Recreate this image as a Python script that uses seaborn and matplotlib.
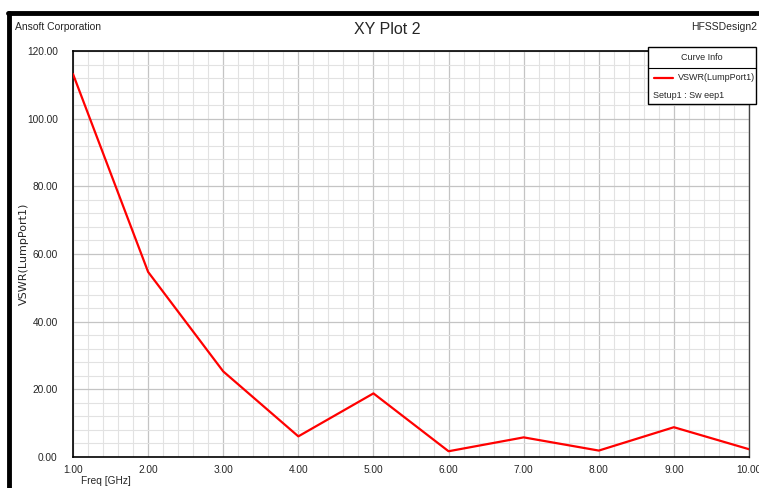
import matplotlib
matplotlib.use("Agg")
import matplotlib.pyplot as plt
import seaborn as sns
import pandas as pd
import numpy as np
from matplotlib.patches import Rectangle
from matplotlib.lines import Line2D
from matplotlib.ticker import MultipleLocator, FormatStrFormatter

freq_ghz = [1, 2, 3, 4, 5, 6, 7, 8, 9, 10]
vswr = [113.2, 54.7, 25.3, 6.1, 18.8, 1.7, 5.8, 1.9, 8.8, 2.3]

sns.set_style("white")
plt.rcParams['font.family'] = ['Liberation Sans Narrow', 'Liberation Sans', 'DejaVu Sans']

W, H = 759, 488
fig = plt.figure(figsize=(W / 100, H / 100), dpi=100)
fig.patch.set_facecolor("white")

def fx(px):
    return px / W

def fy(py):
    return 1 - py / H

AXW = fx(749) - fx(73)
ax = fig.add_axes([fx(73), fy(457), AXW, fy(51) - fy(457)])
df = pd.DataFrame({"Freq": freq_ghz, "VSWR": vswr})
sns.lineplot(data=df, x="Freq", y="VSWR", ax=ax, color="#ff0000", linewidth=1.6, zorder=5)

ax.set_xlim(1, 10)
ax.set_ylim(0, 120)
ax.xaxis.set_major_locator(MultipleLocator(1))
ax.xaxis.set_minor_locator(MultipleLocator(0.2))
ax.yaxis.set_major_locator(MultipleLocator(20))
ax.yaxis.set_minor_locator(MultipleLocator(4))
ax.xaxis.set_major_formatter(FormatStrFormatter("%.2f"))
ax.yaxis.set_major_formatter(FormatStrFormatter("%.2f"))
ax.grid(which="major", color="#c4c4c4", linewidth=0.9)
ax.grid(which="minor", color="#e2e2e2", linewidth=0.8)
ax.set_axisbelow(True)
ax.tick_params(which="major", direction="out", color="black", width=1,
               labelsize=7.3, pad=2)
ax.tick_params(which="minor", direction="out", color="black", width=1)
ax.tick_params(axis="y", which="major", length=9)
ax.tick_params(axis="y", which="minor", length=5)
ax.tick_params(axis="x", which="major", length=4)
ax.tick_params(axis="x", which="minor", length=4)
for s in ["left", "bottom", "top"]:
    ax.spines[s].set_color("black")
    ax.spines[s].set_linewidth(1.2)
ax.spines["right"].set_color("#444444")
ax.spines["right"].set_linewidth(1.0)

ax.set_xlabel("Freq [GHz]", fontsize=7.3)
ax.xaxis.set_label_coords((fx(106) - fx(73)) / AXW, -0.048)
ax.set_ylabel("VSWR(LumpPort1)", fontsize=8, family=['DejaVu Sans'])
ax.yaxis.set_label_coords(-((fx(73) - fx(29)) / AXW), 0.5)

# frame border
fig.add_artist(Line2D([fx(8), 1], [fy(13), fy(13)], color="black", linewidth=3.5,
                      transform=fig.transFigure))
fig.add_artist(Line2D([fx(9), fx(9)], [0, fy(13)], color="black", linewidth=3.5,
                      transform=fig.transFigure))

fig.text(fx(15), fy(27), "Ansoft Corporation", fontsize=7.5, ha="left", va="center")
fig.text(fx(387), fy(29), "XY Plot 2", fontsize=11.5, ha="center", va="center")
fig.text(fx(757), fy(27), "HFSSDesign2", fontsize=7.5, ha="right", va="center")

# curve info box
x0, x1, y0, y1 = 648, 756, 47, 104
fig.add_artist(Rectangle((fx(x0), fy(y1)), fx(x1) - fx(x0), fy(y0) - fy(y1),
                         transform=fig.transFigure, facecolor="white",
                         edgecolor="black", linewidth=1.0, zorder=10))
fig.add_artist(Line2D([fx(x0), fx(x1)], [fy(68), fy(68)], color="black", linewidth=0.8,
                      transform=fig.transFigure, zorder=11))
fig.text(fx((x0 + x1) / 2), fy(58), "Curve Info", fontsize=6.5, ha="center", va="center", zorder=12)
fig.add_artist(Line2D([fx(654), fx(673)], [fy(78), fy(78)], color="#ff0000", linewidth=1.6,
                      transform=fig.transFigure, zorder=12))
fig.text(fx(678), fy(78), "VSWR(LumpPort1)", fontsize=6.5, ha="left", va="center", zorder=12)
fig.text(fx(653), fy(95), "Setup1 : Sw eep1", fontsize=6.5, ha="left", va="center", zorder=12)

fig.savefig("out.png", dpi=100)
